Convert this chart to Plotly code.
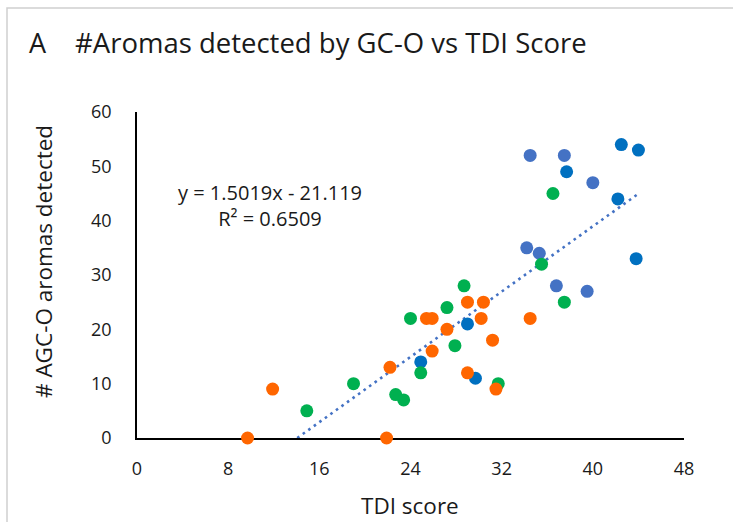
import plotly.graph_objects as go

# ---- data ----
light_blue_x = [34.5, 37.5, 40.0, 34.2, 35.3, 36.8, 39.5]
light_blue_y = [52, 52, 47, 35, 34, 28, 27]

dark_blue_x = [42.5, 44.0, 37.7, 42.2, 43.8, 29.0, 29.7, 24.9]
dark_blue_y = [54, 53, 49, 44, 33, 21, 11, 14]

green_x = [36.5, 35.5, 28.7, 37.5, 27.2, 27.9, 31.7, 24.0, 19.0, 14.9, 22.7, 23.4, 24.9]
green_y = [45, 32, 28, 25, 24, 17, 10, 22, 10, 5, 8, 7, 12]

orange_x = [11.9, 9.7, 21.9, 22.2, 25.4, 25.9, 25.9, 29.0, 30.4, 27.2, 30.2, 31.2, 29.0, 31.5, 34.5]
orange_y = [9, 0, 0, 13, 22, 22, 16, 25, 25, 20, 22, 18, 12, 9, 22]

slope = 1.5019
intercept = -21.119
r_squared = 0.6509

x_ticks = [0, 8, 16, 24, 32, 40, 48]
y_ticks = [0, 10, 20, 30, 40, 50, 60]

# ---- layout geometry ----
W, H = 733, 522
L, R, T, B = 137, 49, 112, 84
PW, PH = W - L - R, H - T - B


def px_x(px):
    return (px - L) / PW


def px_y(py):
    return (H - B - py) / PH


FONT = "Open Sans"
TXT = "#1a1a1a"

fig = go.Figure()

all_x = light_blue_x + dark_blue_x + green_x + orange_x
x0 = max(min(all_x), -intercept / slope)
x1 = max(all_x)
fig.add_trace(go.Scatter(
    x=[x0, x1], y=[slope * x0 + intercept, slope * x1 + intercept],
    mode="lines", line=dict(color="#4472C4", width=2.6, dash="2.6px,4.2px"),
    hoverinfo="skip", showlegend=False))

for xs, ys, col in [
    (light_blue_x, light_blue_y, "#4472C4"),
    (dark_blue_x, dark_blue_y, "#0070C0"),
    (green_x, green_y, "#00B050"),
    (orange_x, orange_y, "#FF6600"),
]:
    fig.add_trace(go.Scatter(
        x=xs, y=ys, mode="markers", cliponaxis=False,
        marker=dict(color=col, size=13, line=dict(width=0)),
        showlegend=False))

fig.update_layout(
    width=W, height=H,
    margin=dict(l=L, r=R, t=T, b=B),
    paper_bgcolor="white", plot_bgcolor="white",
    font=dict(family=FONT, color=TXT),
    showlegend=False,
)

fig.update_xaxes(
    range=[0, 48], tickvals=x_ticks, ticktext=[str(v) for v in x_ticks],
    showgrid=False, zeroline=False, showline=True, linecolor="#000000", linewidth=1.6,
    ticks="", tickfont=dict(size=18, color=TXT, family=FONT), ticklabelstandoff=14,
    layer="below traces")
fig.update_yaxes(
    range=[0, 60], tickvals=y_ticks, ticktext=[str(v) for v in y_ticks],
    showgrid=False, zeroline=False, showline=True, linecolor="#000000", linewidth=1.6,
    ticks="", tickfont=dict(size=18, color=TXT, family=FONT), ticklabelstandoff=20,
    layer="below traces")

ann = []
ann.append(dict(text="A", x=px_x(27), y=px_y(43), xref="paper", yref="paper",
                xanchor="left", yanchor="middle", showarrow=False,
                font=dict(size=27, family=FONT, color=TXT)))
ann.append(dict(text="#Aromas detected by GC-O vs TDI Score", x=px_x(73), y=px_y(43),
                xref="paper", yref="paper", xanchor="left", yanchor="middle",
                showarrow=False, font=dict(size=27.5, family=FONT, color=TXT)))
ann.append(dict(text="# AGC-O aromas detected", x=px_x(43), y=px_y(262),
                xref="paper", yref="paper", xanchor="center", yanchor="middle",
                textangle=-90, showarrow=False, font=dict(size=22.5, family=FONT, color=TXT)))
ann.append(dict(text="TDI score", x=px_x(410), y=px_y(505),
                xref="paper", yref="paper", xanchor="center", yanchor="middle",
                showarrow=False, font=dict(size=22.5, family=FONT, color=TXT)))
ann.append(dict(text=f"y = {slope}x - {abs(intercept)}<br>R² = {r_squared}",
                x=px_x(270), y=px_y(205), align="center",
                xref="paper", yref="paper", xanchor="center", yanchor="middle",
                showarrow=False, font=dict(size=20, family=FONT, color=TXT)))
fig.update_layout(annotations=ann)

fig.add_shape(type="rect", xref="paper", yref="paper",
              x0=px_x(7), y0=px_y(540), x1=px_x(760), y1=px_y(8),
              line=dict(color="#d0d0d0", width=1.5), fillcolor="rgba(0,0,0,0)", layer="below")

fig.write_html("out.html", config={"displayModeBar": False},
               post_script="document.body.style.margin='0';document.body.style.overflow='hidden';")
